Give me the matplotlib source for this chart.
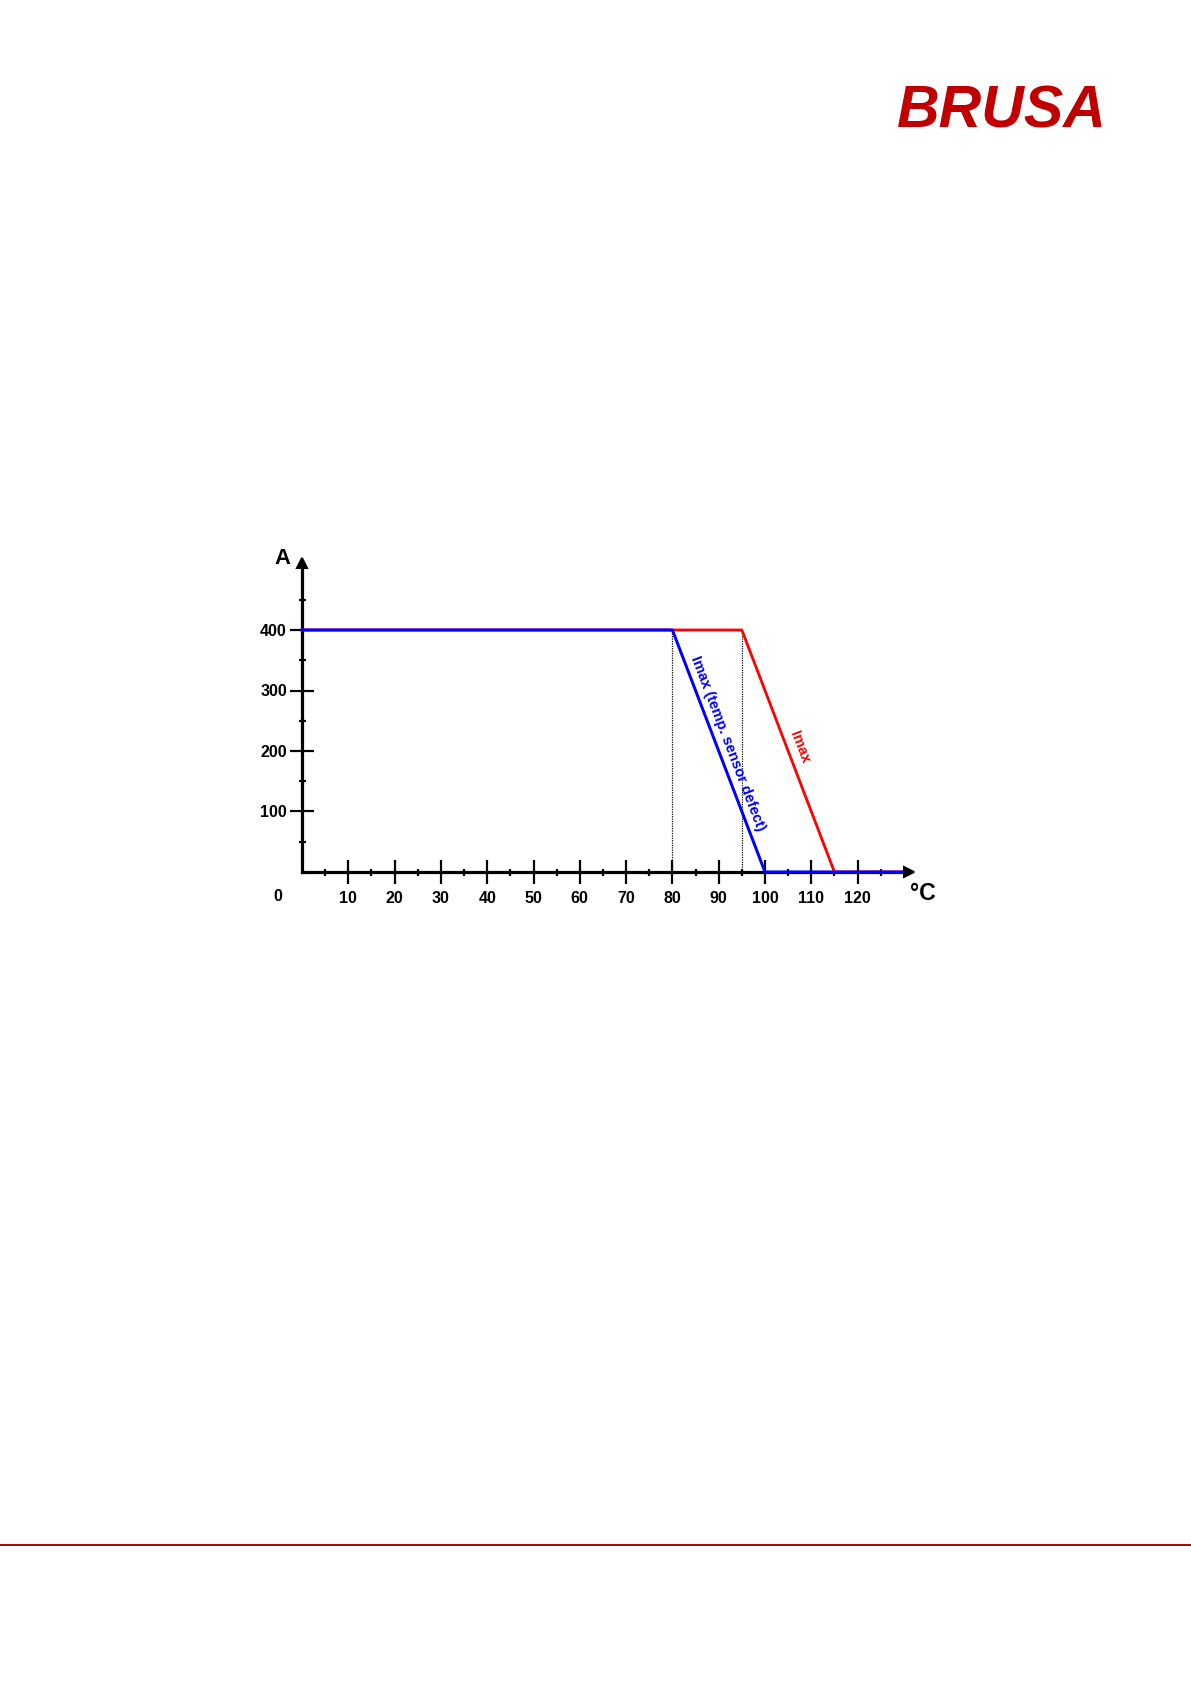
import matplotlib.pyplot as plt
from matplotlib.lines import Line2D

plt.rcParams['font.family'] = ['Liberation Sans', 'DejaVu Sans']
plt.rcParams['font.weight'] = 'bold'

# derating curves: temperature (°C) -> max current (A)
temp_imax = [0, 80, 95, 115, 129.5]
imax = [400, 400, 400, 0, 0]
temp_defect = [0, 80, 100, 129.5]
imax_defect = [400, 400, 0, 0]
marker_temps = [80, 95]
marker_level = 400

x_major = list(range(10, 121, 10))
x_minor = list(range(5, 130, 10))
y_major = [100, 200, 300, 400]
y_minor = [50, 150, 250, 350, 450]

W, H, DPI = 1191, 1684, 144
fig = plt.figure(figsize=(W / DPI, H / DPI), dpi=DPI)

# axes placed in pixels: origin at (302, 872), 4.63 px per °C, 0.605 px per A
x0, y0 = 302, 872
xmax, ymax = 131, 511
ax = fig.add_axes([x0 / W, 1 - y0 / H, xmax * 4.63 / W, ymax * 0.605 / H])
ax.set_xlim(0, xmax)
ax.set_ylim(0, ymax)

for s in ['top', 'right']:
    ax.spines[s].set_visible(False)
for s in ['left', 'bottom']:
    ax.spines[s].set_linewidth(1.6)
    ax.spines[s].set_color('black')

# axis arrows
ax.plot(1, 0, '>k', ms=5, transform=ax.get_yaxis_transform(), clip_on=False)
ax.plot(0, 1, '^k', ms=5, transform=ax.get_xaxis_transform(), clip_on=False)

ax.set_xticks(x_major)
ax.set_xticklabels([str(v) for v in x_major])
ax.set_yticks(y_major)
ax.set_yticklabels([str(v) for v in y_major])
ax.set_xticks(x_minor, minor=True)
ax.set_yticks(y_minor, minor=True)
ax.tick_params(which='major', direction='inout', length=12, width=1.1,
               labelsize=8, pad=3.5)
ax.tick_params(axis='y', which='major', pad=1.5)
ax.tick_params(which='minor', direction='inout', length=3.5, width=1.1)

# dotted guides
for t in marker_temps:
    ax.plot([t, t], [0, marker_level], color='black', lw=0.6, ls=(0, (1, 1)))

ax.plot(temp_imax, imax, color='#FF0000', lw=1.4, zorder=3, clip_on=False)
ax.plot(temp_defect, imax_defect, color='#0000FF', lw=1.5, zorder=4, clip_on=False)

ax.text(92.0, 211.6, 'Imax (temp. sensor defect)', color='#0000FF', fontsize=7.3,
        rotation=-69.1, ha='center', va='center', rotation_mode='anchor')
ax.text(107.6, 206.6, 'Imax', color='#FF0000', fontsize=7.3,
        rotation=-69.1, ha='center', va='center', rotation_mode='anchor')

ax.annotate('0', xy=(0, 0), xytext=(-12, -12.5), textcoords='offset points',
            ha='center', va='center', fontsize=8, fontweight='bold')
ax.annotate('A', xy=(0, 1), xycoords='axes fraction', xytext=(-10, -0.5),
            textcoords='offset points', ha='center', va='baseline',
            fontsize=11, fontweight='bold')
ax.annotate('°C', xy=(1, 0), xycoords='axes fraction', xytext=(7, -14),
            textcoords='offset points', ha='center', va='baseline',
            fontsize=11.5, fontweight='bold')

# header logo and footer rule
fig.text(1001.5 / W, 1 - 127 / H, 'BRUSA', ha='center', va='baseline',
         fontsize=29.5, fontweight='bold', fontstyle='italic', color='#C00000')
fig.add_artist(Line2D([0, 1], [1 - 1545 / H] * 2, color='#A50C1A', lw=1.0,
                      transform=fig.transFigure))

fig.savefig('out.png', dpi=DPI)
